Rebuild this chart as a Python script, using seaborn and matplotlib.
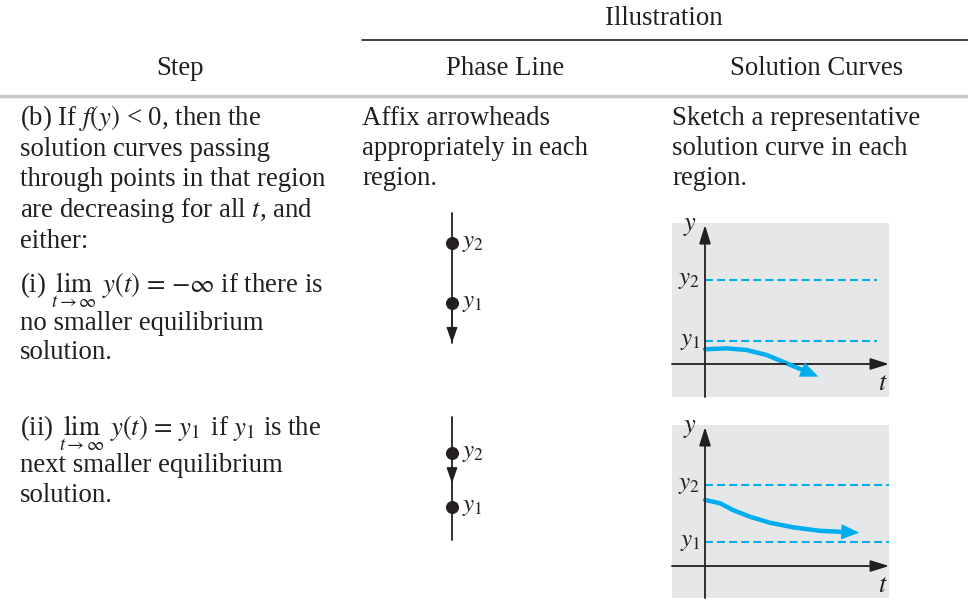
import matplotlib
matplotlib.use("Agg")
import matplotlib.pyplot as plt
import seaborn as sns

W, H = 968, 614
INK = "#231f20"
CYAN = "#00aeef"
PANEL = "#e6e7e8"
RULE = "#c8c9ca"

# table text
header_top = "Illustration"
header_cols = ["Step", "Phase Line", "Solution Curves"]

step_b_lines = [
    "(b) If $f(y)$ < 0, then the",
    "solution curves passing",
    "through points in that region",
    "are decreasing for all $t$, and",
    "either:",
]
step_i_lines = [
    r"(i) $\lim_{t\,\rightarrow\,\infty}\ y(t)\ =\ -\infty$ if there is",
    "no smaller equilibrium",
    "solution.",
]
step_ii_lines = [
    r"(ii) $\lim_{t\,\rightarrow\,\infty}\ y(t)\ =\ y_1$ if $y_1$ is the",
    "next smaller equilibrium",
    "solution.",
]
phase_text = ["Affix arrowheads", "appropriately in each", "region."]
curve_text = ["Sketch a representative", "solution curve in each", "region."]

# phase lines (equilibria y1, y2)
phase_levels = [1.0, 2.0]
phase_names = ["$y_1$", "$y_2$"]

# solution curves panel (i)
sol1_levels = [1.0, 3.65]
sol1_t = [0.0, 0.94, 1.81, 2.68, 3.55, 4.93]
sol1_y = [0.64, 0.68, 0.61, 0.39, 0.03, -0.55]

# solution curves panel (ii)
sol2_levels = [1.04, 3.52]
sol2_t = [0.0, 0.65, 1.22, 1.96, 2.83, 3.84, 5.0, 6.71]
sol2_y = [2.87, 2.73, 2.43, 2.14, 1.88, 1.68, 1.53, 1.45]

sns.set_theme(style="white")
plt.rcParams["font.family"] = ["Liberation Serif", "DejaVu Serif"]
plt.rcParams["mathtext.fontset"] = "stix"
plt.rcParams["text.color"] = INK

fig = plt.figure(figsize=(W / 100, H / 100), dpi=100)
fig.patch.set_facecolor("white")

bg = fig.add_axes([0, 0, 1, 1])
bg.set_xlim(0, W)
bg.set_ylim(H, 0)
bg.axis("off")


def px_axes(left, top, right, bottom):
    return fig.add_axes([left / W, 1 - bottom / H, (right - left) / W, (bottom - top) / H])


FS = 19.3

# header
bg.text(664, 25, header_top, ha="center", va="baseline", fontsize=FS)
bg.plot([362, W], [40, 40], color=INK, lw=1.2)
for x, label in zip([180, 505, 817], header_cols):
    bg.text(x, 75, label, ha="center", va="baseline", fontsize=FS)
bg.plot([0, W], [96, 96], color=RULE, lw=2.5)

# column text
for i, line in enumerate(step_b_lines):
    bg.text(20, 125 + i * 30.7, line, ha="left", va="baseline", fontsize=FS)
for y, line in zip([292, 330, 359], step_i_lines):
    bg.text(20, y, line, ha="left", va="baseline", fontsize=FS)
for y, line in zip([435, 472, 502], step_ii_lines):
    bg.text(20, y, line, ha="left", va="baseline", fontsize=FS)
for i, line in enumerate(phase_text):
    bg.text(362, 125 + i * 30, line, ha="left", va="baseline", fontsize=FS)
for i, line in enumerate(curve_text):
    bg.text(672, 125 + i * 30, line, ha="left", va="baseline", fontsize=FS)


def draw_phase_line(ax, y_lo, y_hi, line_lo, line_hi, arrow_mid=None):
    ax.set_xlim(-0.275, 0.725)
    ax.set_ylim(y_lo, y_hi)
    ax.axis("off")
    ax.plot([0, 0], [line_lo, line_hi], color=INK, lw=1.3)
    head = dict(arrowstyle="-|>,head_length=0.8,head_width=0.28",
                color=INK, lw=1.0, mutation_scale=12, shrinkA=0, shrinkB=0)
    if arrow_mid is None:
        ax.annotate("", xy=(0, line_lo), xytext=(0, phase_levels[0]), arrowprops=head)
    else:
        ax.annotate("", xy=(0, arrow_mid), xytext=(0, arrow_mid + 0.3), arrowprops=head)
    sns.scatterplot(x=[0, 0], y=phase_levels, s=75, color=INK, edgecolor=INK,
                    ax=ax, zorder=5, legend=False)
    for lv, name in zip(phase_levels, phase_names):
        ax.text(0.13, lv, name, ha="left", va="center", fontsize=18)


ph1 = px_axes(430, 205, 510, 350)
draw_phase_line(ph1, 0.217, 2.633, 0.333, 2.5)
ph2 = px_axes(430, 410, 510, 548)
draw_phase_line(ph2, 0.241, 2.796, 0.389, 2.667, arrow_mid=1.44)


def draw_solution(ax, levels, t, y, t_lo, t_hi, y_lo, y_hi, dash_end, y_tip):
    ax.set_facecolor(PANEL)
    ax.set_xlim(t_lo, t_hi)
    ax.set_ylim(y_lo, y_hi)
    ax.set_xticks([])
    ax.set_yticks([])
    for s in ax.spines.values():
        s.set_visible(False)
    axis_arrow = dict(arrowstyle="-|>,head_length=0.8,head_width=0.25",
                      color=INK, lw=1.3, mutation_scale=14, shrinkA=0, shrinkB=0)
    ax.annotate("", xy=(t_hi, 0), xytext=(t_lo, 0), arrowprops=axis_arrow,
                annotation_clip=False)
    ax.annotate("", xy=(0, y_tip), xytext=(0, y_lo), arrowprops=axis_arrow,
                annotation_clip=False)
    ax.hlines(levels, 0, dash_end, colors=CYAN, lw=1.5, linestyles=(0, (3.8, 2.0)))
    for lv, name in zip(levels, ["$y_1$", "$y_2$"]):
        ax.text(-0.2, lv, name, ha="right", va="center", fontsize=18)
    # curve body, then last segment as a filled arrow (shaft + head)
    sns.lineplot(x=t[:-1], y=y[:-1], color=CYAN, lw=3.2, ax=ax,
                 solid_capstyle="round", sort=False)
    ax.annotate("", xy=(t[-1], y[-1]), xytext=(t[-2], y[-2]),
                arrowprops=dict(arrowstyle="simple,head_length=0.65,head_width=0.55,tail_width=0.16",
                                fc=CYAN, ec="none", lw=0, mutation_scale=20,
                                shrinkA=0, shrinkB=0))
    ax.text(-0.65, y_tip - 0.1, "$y$", ha="center", va="center", fontsize=19)
    ax.text(7.75, -0.85, "$t$", ha="center", va="center", fontsize=19)


sol1 = px_axes(672, 223, 889, 397)
draw_solution(sol1, sol1_levels, sol1_t, sol1_y, -1.435, 8.0, -1.435, 6.13, 7.48, 6.04)
sol2 = px_axes(672, 425, 889, 598)
draw_solution(sol2, sol2_levels, sol2_t, sol2_y, -1.435, 8.0, -1.39, 6.13, 8.0, 6.04)

plt.savefig("out.png", dpi=100)
